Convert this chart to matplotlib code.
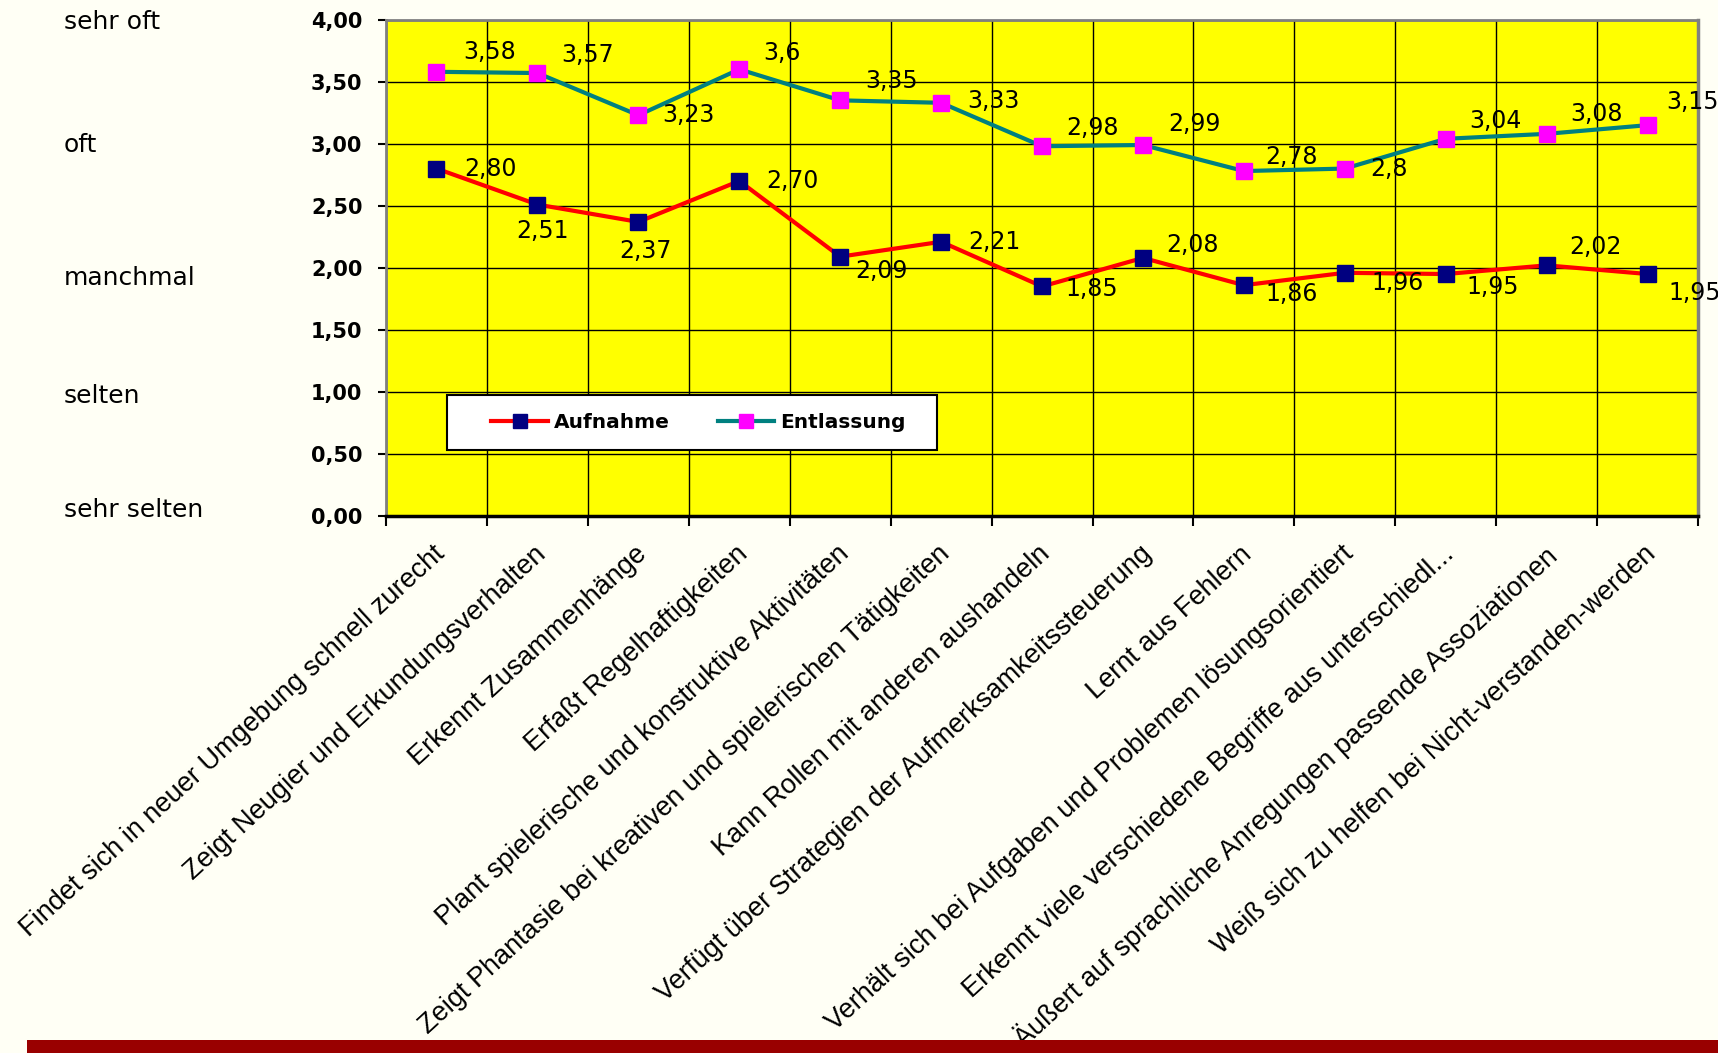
import numpy as np
import matplotlib
matplotlib.use("Agg")
import matplotlib.pyplot as plt
import matplotlib.transforms as mtransforms
from matplotlib.patches import Rectangle

#%% data
categories = [
    "Findet sich in neuer Umgebung schnell zurecht",
    "Zeigt Neugier und Erkundungsverhalten",
    "Erkennt Zusammenhänge",
    "Erfaßt Regelhaftigkeiten",
    "Plant spielerische und konstruktive Aktivitäten",
    "Zeigt Phantasie bei kreativen und spielerischen Tätigkeiten",
    "Kann Rollen mit anderen aushandeln",
    "Verfügt über Strategien der Aufmerksamkeitssteuerung",
    "Lernt aus Fehlern",
    "Verhält sich bei Aufgaben und Problemen lösungsorientiert",
    "Erkennt viele verschiedene Begriffe aus unterschiedl...",
    "Äußert auf sprachliche Anregungen passende Assoziationen",
    "Weiß sich zu helfen bei Nicht-verstanden-werden",
]
aufnahme = [2.80, 2.51, 2.37, 2.70, 2.09, 2.21, 1.85, 2.08, 1.86, 1.96, 1.95, 2.02, 1.95]
entlassung = [3.58, 3.57, 3.23, 3.6, 3.35, 3.33, 2.98, 2.99, 2.78, 2.8, 3.04, 3.08, 3.15]
yticks = [0.0, 0.5, 1.0, 1.5, 2.0, 2.5, 3.0, 3.5, 4.0]
levels = ["sehr oft", "oft", "manchmal", "selten", "sehr selten"]
level_values = [4, 3, 2, 1, 0]

# Excel-style number labels (German decimal comma)
aufnahme_labels = [f"{v:.2f}".replace(".", ",") for v in aufnahme]
entlassung_labels = [f"{v:g}".replace(".", ",") for v in entlassung]

# where each data label sits relative to its marker (points)
auf_offsets = [(39, 0), (4, -19), (5, -21), (38, 0), (30, -10), (38, 0), (36, -2),
               (36, 9), (34, -6), (38, -7), (34, -9), (35, 13), (34, -14)]
ent_offsets = [(38, 14), (36, 13), (36, 0), (31, 12), (37, 14), (38, 1), (36, 13),
               (37, 15), (34, 10), (32, 0), (36, 13), (36, 14), (32, 17)]
# small vertical nudges of the verbal scale (points)
level_nudge = [-2, -1, -7, -3, 4]

#%% figure
fig = plt.figure(figsize=(17.18, 10.53), dpi=100, facecolor="#FFFFF5")
ax = fig.add_axes([0.2247, 0.51, 0.7637, 0.4713])
ax.set_facecolor("#FFFF00")

x = np.arange(len(categories))
ax.plot(x, aufnahme, color="#FF0000", lw=3, marker="s", ms=12,
        mfc="#000080", mec="#000080", label="Aufnahme", zorder=6)
ax.plot(x, entlassung, color="#008080", lw=3, marker="s", ms=12,
        mfc="#FF00FF", mec="#FF00FF", label="Entlassung", zorder=6)

for xi, v, s, off in zip(x, aufnahme, aufnahme_labels, auf_offsets):
    ax.annotate(s, (xi, v), xytext=off, textcoords="offset points",
                ha="center", va="center", fontsize=17, zorder=7)
for xi, v, s, off in zip(x, entlassung, entlassung_labels, ent_offsets):
    ax.annotate(s, (xi, v), xytext=off, textcoords="offset points",
                ha="center", va="center", fontsize=17, zorder=7,
                annotation_clip=False)

ax.set_xlim(-0.5, len(categories) - 0.5)
ax.set_ylim(0, 4)
ax.set_yticks(yticks)
ax.set_yticklabels([f"{v:.2f}".replace(".", ",") for v in yticks],
                   fontsize=15, fontweight="bold")
ax.tick_params(axis="y", length=6, width=1.5, pad=11)

ax.set_xticks(x)
ax.set_xticklabels(categories, rotation=42.5, ha="right", va="top",
                   rotation_mode="anchor", fontsize=19.5, family="Liberation Sans")
ax.set_xticks(np.arange(-0.5, len(categories)), minor=True)
ax.tick_params(axis="x", which="major", length=0, pad=18)
ax.tick_params(axis="x", which="minor", length=7, width=1.5)
shift = mtransforms.ScaledTranslation(-4 / 100, 0, fig.dpi_scale_trans)
for lbl in ax.get_xticklabels():
    lbl.set_transform(lbl.get_transform() + shift)

ax.grid(True, which="minor", axis="x", color="black", lw=1)
ax.grid(True, which="major", axis="y", color="black", lw=1)
ax.set_axisbelow(True)

ax.spines["left"].set_color("#808080")
ax.spines["left"].set_linewidth(2)
ax.spines["top"].set_color("#808080")
ax.spines["top"].set_linewidth(2)
ax.spines["right"].set_color("#808080")
ax.spines["right"].set_linewidth(2.5)
ax.spines["bottom"].set_color("black")
ax.spines["bottom"].set_linewidth(2.5)

# legend box
ax.add_patch(Rectangle((0.0465, 0.133), 0.3735, 0.111, transform=ax.transAxes,
                       facecolor="white", edgecolor="black", lw=1.5, zorder=8))
leg = ax.legend(loc="center", bbox_to_anchor=(0.0465 + 0.3735 / 2 + 0.005, 0.133 + 0.111 / 2),
                ncol=2, frameon=False, handlelength=2.8, handletextpad=0.3,
                columnspacing=2.4, markerscale=0.8,
                prop={"family": "DejaVu Sans", "weight": "bold", "size": 14.5})
leg.set_zorder(9)

# verbal scale on the left
trans = mtransforms.blended_transform_factory(fig.transFigure, ax.transData)
for lev, val, dy in zip(levels, level_values, level_nudge):
    fig.text(0.037, val, lev, ha="left", va="center", fontsize=18,
             transform=trans + mtransforms.ScaledTranslation(0, dy / 72, fig.dpi_scale_trans))

# dark red bar at the bottom
fig.add_artist(Rectangle((27 / 1718, 0), 1 - 27 / 1718, 13 / 1053,
                         transform=fig.transFigure, facecolor="#990000",
                         edgecolor="none"))

fig.savefig("out.png", dpi=100, facecolor=fig.get_facecolor())
